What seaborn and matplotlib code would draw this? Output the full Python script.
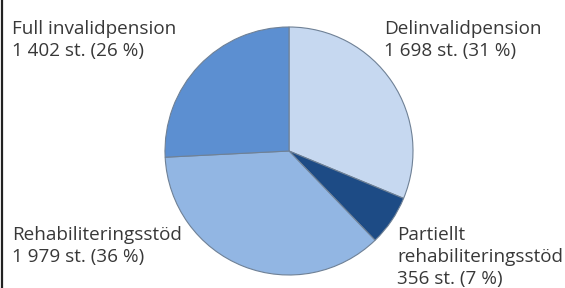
import matplotlib
matplotlib.use("Agg")
import matplotlib.pyplot as plt
import seaborn as sns
from matplotlib.lines import Line2D

# data (clockwise from 12 o'clock)
categories = ["Delinvalidpension", "Partiellt\nrehabiliteringsstöd",
              "Rehabiliteringsstöd", "Full invalidpension"]
counts = [1698, 356, 1979, 1402]
percents = [31, 7, 36, 26]
count_labels = ["1 698", "356", "1 979", "1 402"]
colors = ["#c6d8f0", "#1d4b85", "#92b6e3", "#5c8fd1"]

sns.set_theme(style="white")
plt.rcParams["font.family"] = ["Open Sans", "DejaVu Sans"]

W, H = 565, 288
fig = plt.figure(figsize=(W / 100, H / 100), dpi=100)
fig.patch.set_facecolor("white")

# pie centred at (289, 151) px, radius 124 px
cx, cy, r = 289, 151, 124
ax = fig.add_axes([(cx - r) / W, (H - cy - r) / H, 2 * r / W, 2 * r / H])
ax.pie(counts, colors=colors, startangle=90, counterclock=False,
       wedgeprops=dict(edgecolor="#6f8196", linewidth=0.8))
ax.set_xlim(-1, 1)
ax.set_ylim(-1, 1)
ax.set_aspect("equal")
ax.axis("off")

# label positions (top-left corner, pixels), same order as categories
label_pos = [(384, 20), (397, 226), (12, 226), (12, 20)]
for name, cnt, pct, (px, py) in zip(categories, count_labels, percents, label_pos):
    fig.text(px / W, 1 - py / H, f"{name}\n{cnt} st. ({pct} %)",
             ha="left", va="top", fontsize=13.6, color="#383838",
             linespacing=1.27)

# thin border on the left edge
fig.add_artist(Line2D([1.5 / W, 1.5 / W], [0, 1], color="#222222",
                      linewidth=1.6, transform=fig.transFigure))

fig.savefig("out.png", dpi=100)
